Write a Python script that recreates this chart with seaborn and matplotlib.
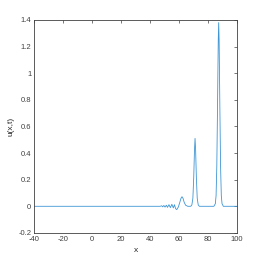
import numpy as np
import pandas as pd
import matplotlib
matplotlib.use('Agg')
import matplotlib.pyplot as plt
import seaborn as sns

# u(x,t)
x_vals = [-40, 0, 40, 47, 48, 48.7, 49.5, 50.3, 51.2, 52, 53, 54, 55, 56, 56.8, 57.6, 58.4,
          59.5, 60.5, 61.3, 62, 62.7, 63.5, 64.5, 66,
          68, 68.8, 69.5, 70.1, 70.6, 71, 71.4, 71.9, 72.5, 73.2, 74,
          84, 85, 85.5, 86, 86.5, 87, 87.3, 87.6, 88.1, 88.6, 89.1, 89.6, 90.5, 100]
u_vals = [0, 0, 0, 0, 0.004, -0.004, 0.006, -0.006, 0.008, -0.008, 0.012, -0.01, 0.015, -0.012, 0.012, -0.018, -0.025,
          -0.005, 0.03, 0.06, 0.072, 0.06, 0.03, 0.008, 0,
          0, 0.01, 0.06, 0.22, 0.42, 0.51, 0.42, 0.22, 0.06, 0.01, 0,
          0, 0.02, 0.08, 0.3, 0.75, 1.25, 1.38, 1.25, 0.75, 0.3, 0.08, 0.02, 0, 0]
x_ticks = [-40, -20, 0, 20, 40, 60, 80, 100]
y_ticks = [-0.2, 0, 0.2, 0.4, 0.6, 0.8, 1, 1.2, 1.4]
y_labels = ['-0.2', '0', '0.2', '0.4', '0.6', '0.8', '1', '1.2', '1.4']

df = pd.DataFrame({'x': x_vals, 'u': u_vals})

sns.set_style('white')
plt.rcParams['font.family'] = ['Liberation Sans', 'DejaVu Sans']
plt.rcParams['axes.unicode_minus'] = False

fig = plt.figure(figsize=(2.62, 2.62), dpi=100)
ax = fig.add_axes([0.130, 0.111, 0.775, 0.813])
sns.lineplot(data=df, x='x', y='u', ax=ax, color='#3D95D4', linewidth=0.6)

ax.set_xlim(-40, 100)
ax.set_ylim(-0.2, 1.4)
ax.set_xticks(x_ticks)
ax.set_yticks(y_ticks)
ax.set_yticklabels(y_labels)
ax.tick_params(direction='in', length=2, width=0.5, labelsize=5.5, colors='#404040', pad=2,
               top=True, right=True)
for s in ax.spines.values():
    s.set_visible(True)
    s.set_linewidth(0.6)
    s.set_color('#404040')
ax.set_xlabel('x', fontsize=6, color='#262626', labelpad=3)
ax.set_ylabel('u(x,t)', fontsize=6, color='#262626', labelpad=3)

fig.savefig('out.png', dpi=100)
